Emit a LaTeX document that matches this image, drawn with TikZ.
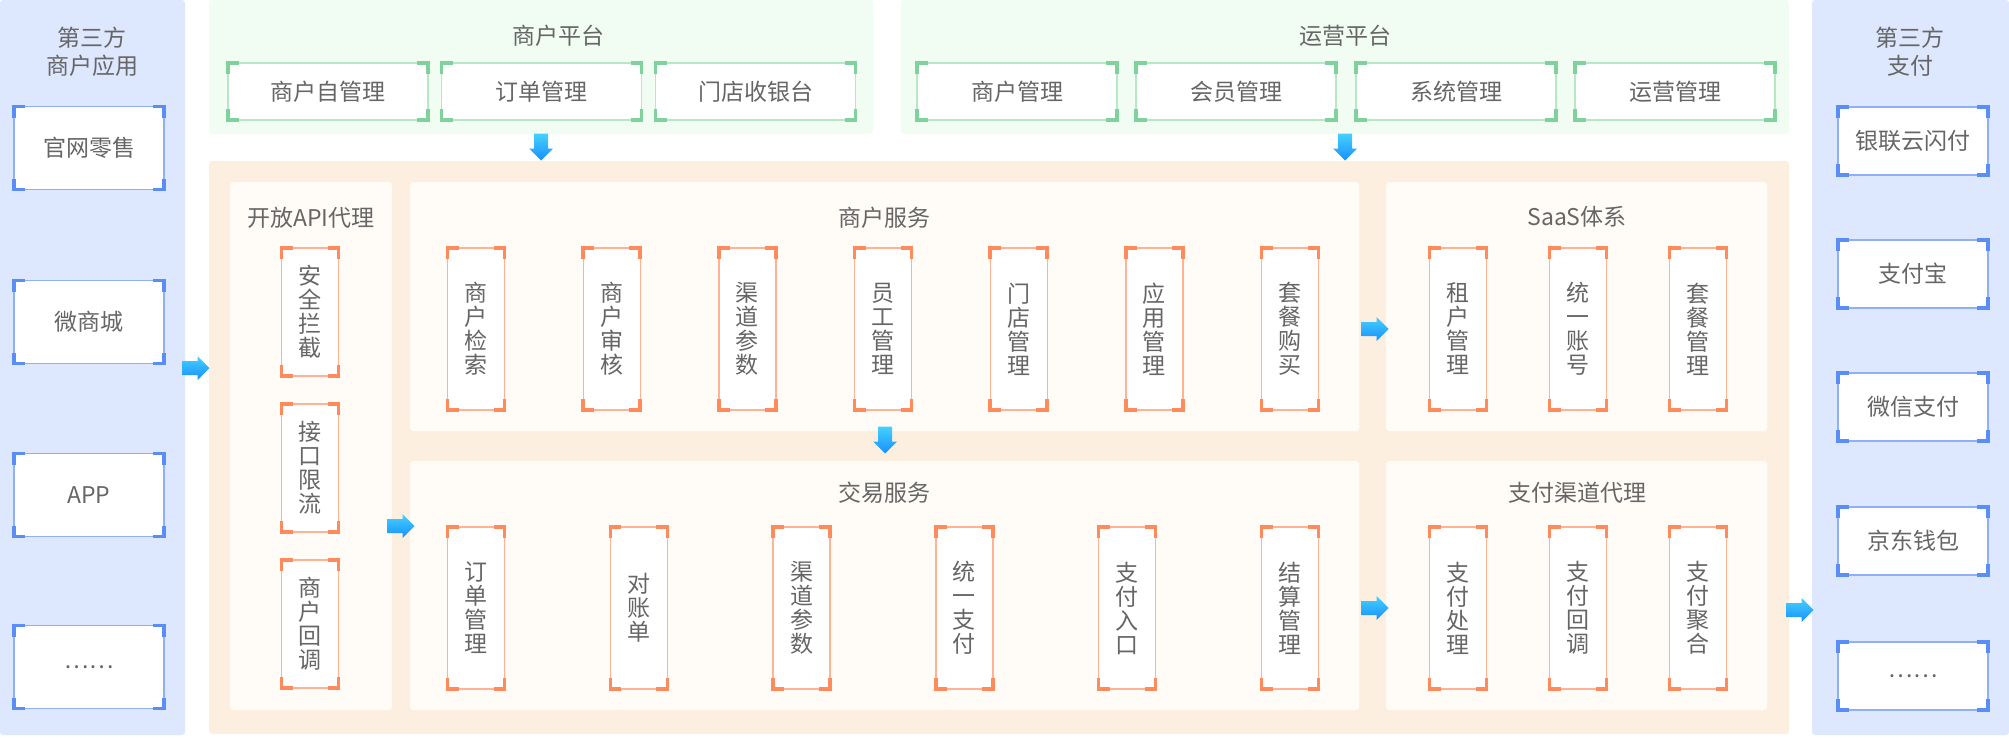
\documentclass[tikz,border=0pt]{standalone}
\usepackage{fontspec}
\setmainfont{Noto Sans CJK SC}

\definecolor{txt}{HTML}{666666}
\definecolor{sidebg}{HTML}{DDE7FE}
\definecolor{bluemk}{HTML}{5B8DF7}
\definecolor{blueln}{HTML}{8FB0F8}
\definecolor{greenbg}{HTML}{F1FCF3}
\definecolor{greenmk}{HTML}{7FD29B}
\definecolor{greenln}{HTML}{B8E7C8}
\definecolor{orangebg}{HTML}{FDEFE0}
\definecolor{creambg}{HTML}{FFFCF7}
\definecolor{orangemk}{HTML}{FF8B5C}
\definecolor{orangeln}{HTML}{FFB394}
\definecolor{arrowhi}{HTML}{45D1FF}
\definecolor{arrowlo}{HTML}{1890FF}

\tikzset{
  panel/.style={rounded corners=3pt},
  whitebox/.style={draw, fill=white, line width=1.3pt, outer sep=0pt, inner sep=0pt},
  lbox/.style={whitebox, draw=blueln, minimum width=150pt, minimum height=83pt},
  rbox/.style={whitebox, draw=blueln, minimum width=150pt, minimum height=68pt},
  gbox/.style={whitebox, draw=greenln, minimum width=200pt, minimum height=57pt},
  vbox/.style={whitebox, draw=orangeln, minimum width=57pt, align=center,
    font=\fontsize{23}{24}\selectfont},
  cornermk/.style={line width=3.5pt, draw=#1},
  flowarrow/.pic={
    \shade[top color=arrowhi, bottom color=arrowlo]
      (-13.5,-7) -- (1.5,-7) -- (1.5,-12) -- (13.5,0) -- (1.5,12) -- (1.5,7)
      -- (-13.5,7) -- cycle;
  }
}

\begin{document}
\begin{tikzpicture}[x=1pt, y=-1pt,
  every node/.style={text=txt, font=\fontsize{23}{28}\selectfont}]

\useasboundingbox (0,0) rectangle (2009,737);

% panels
\fill[sidebg, panel] (0,0) rectangle (185,735);
\fill[sidebg, panel] (1812,0) rectangle (2009,735);
\fill[greenbg, panel] (209,0) rectangle (873,134);
\fill[greenbg, panel] (901,0) rectangle (1789,134);
\fill[orangebg, panel] (209,161) rectangle (1789,734);
\fill[creambg, panel] (230,182) rectangle (392,710);
\fill[creambg, panel] (410,182) rectangle (1359,431);
\fill[creambg, panel] (410,461) rectangle (1359,710);
\fill[creambg, panel] (1386,182) rectangle (1767,431);
\fill[creambg, panel] (1386,461) rectangle (1767,710);

% titles
\node[align=center] (tl) at (92,52) {第三方\\商户应用};
\node[align=center] (tr) at (1910,52) {第三方\\支付};
\node (tm) at (558,36) {商户平台};
\node (to) at (1345,36) {运营平台};
\node (tapi) at (311,218) {开放API代理};
\node (tsh) at (884,218) {商户服务};
\node (tjy) at (884,493) {交易服务};
\node (tsaas) at (1577,217) {SaaS体系};
\node (tzf) at (1577,493) {支付渠道代理};

% third party apps
\node[lbox] (w1) at (89,148) {官网零售};
\node[lbox] (w2) at (89,322) {微商城};
\node[lbox] (w3) at (89,495) {APP};
\node[lbox] (w4) at (89,667) {……};

% third party payment
\node[rbox] (q1) at (1913,141) {银联云闪付};
\node[rbox] (q2) at (1913,274) {支付宝};
\node[rbox] (q3) at (1913,407) {微信支付};
\node[rbox] (q4) at (1913,541) {京东钱包};
\node[rbox] (q5) at (1913,676) {……};

% platforms
\node[gbox] (m1) at (328,91.5) {商户自管理};
\node[gbox] (m2) at (541.5,91.5) {订单管理};
\node[gbox] (m3) at (755.5,91.5) {门店收银台};
\node[gbox] (y1) at (1017,91.5) {商户管理};
\node[gbox] (y2) at (1236,91.5) {会员管理};
\node[gbox] (y3) at (1456,91.5) {系统管理};
\node[gbox] (y4) at (1675,91.5) {运营管理};

% open api
\node[vbox, minimum height=128pt] (a1) at (310,312) {安\\全\\拦\\截};
\node[vbox, minimum height=128pt] (a2) at (310,468) {接\\口\\限\\流};
\node[vbox, minimum height=128pt] (a3) at (310,624) {商\\户\\回\\调};

% merchant services
\foreach \t [count=\i] in {{商\\户\\检\\索},{商\\户\\审\\核},{渠\\道\\参\\数},
    {员\\工\\管\\理},{门\\店\\管\\理},{应\\用\\管\\理},{套\\餐\\购\\买}}
  \node[vbox, minimum height=162pt] (s\i) at ({476+(\i-1)*135.67},329) {\t};

% trade services
\foreach \t [count=\i] in {{订\\单\\管\\理},{对\\账\\单},{渠\\道\\参\\数},
    {统\\一\\支\\付},{支\\付\\入\\口},{结\\算\\管\\理}}
  \node[vbox, minimum height=162pt] (j\i) at ({476+(\i-1)*162.8},608) {\t};

% saas
\foreach \t [count=\i] in {{租\\户\\管\\理},{统\\一\\账\\号},{套\\餐\\管\\理}}
  \node[vbox, minimum height=162pt] (k\i) at ({1458+(\i-1)*120},329) {\t};

% payment channels
\foreach \t [count=\i] in {{支\\付\\处\\理},{支\\付\\回\\调},{支\\付\\聚\\合}}
  \node[vbox, minimum height=162pt] (z\i) at ({1458+(\i-1)*120},608) {\t};

% corner brackets
\foreach \n/\c in {w1/bluemk,w2/bluemk,w3/bluemk,w4/bluemk,
    q1/bluemk,q2/bluemk,q3/bluemk,q4/bluemk,q5/bluemk,
    m1/greenmk,m2/greenmk,m3/greenmk,y1/greenmk,y2/greenmk,y3/greenmk,y4/greenmk,
    a1/orangemk,a2/orangemk,a3/orangemk,
    s1/orangemk,s2/orangemk,s3/orangemk,s4/orangemk,s5/orangemk,s6/orangemk,s7/orangemk,
    j1/orangemk,j2/orangemk,j3/orangemk,j4/orangemk,j5/orangemk,j6/orangemk,
    k1/orangemk,k2/orangemk,k3/orangemk,z1/orangemk,z2/orangemk,z3/orangemk}{
  \draw[cornermk=\c] ([yshift=-11pt]\n.north west) |- ([xshift=11pt]\n.north west);
  \draw[cornermk=\c] ([xshift=-11pt]\n.north east) -| ([yshift=-11pt]\n.north east);
  \draw[cornermk=\c] ([yshift=11pt]\n.south west) |- ([xshift=11pt]\n.south west);
  \draw[cornermk=\c] ([xshift=-11pt]\n.south east) -| ([yshift=11pt]\n.south east);
}

% flow arrows
\pic (r1) at (196,368) {flowarrow};
\pic (r2) at (401,526) {flowarrow};
\pic (r3) at (1375,329) {flowarrow};
\pic (r4) at (1375,608) {flowarrow};
\pic (r5) at (1800,610) {flowarrow};
\pic[rotate=-90] (d1) at (541,147) {flowarrow};
\pic[rotate=-90] (d2) at (1345,147) {flowarrow};
\pic[rotate=-90] (d3) at (885,440) {flowarrow};

\end{tikzpicture}
\end{document}
